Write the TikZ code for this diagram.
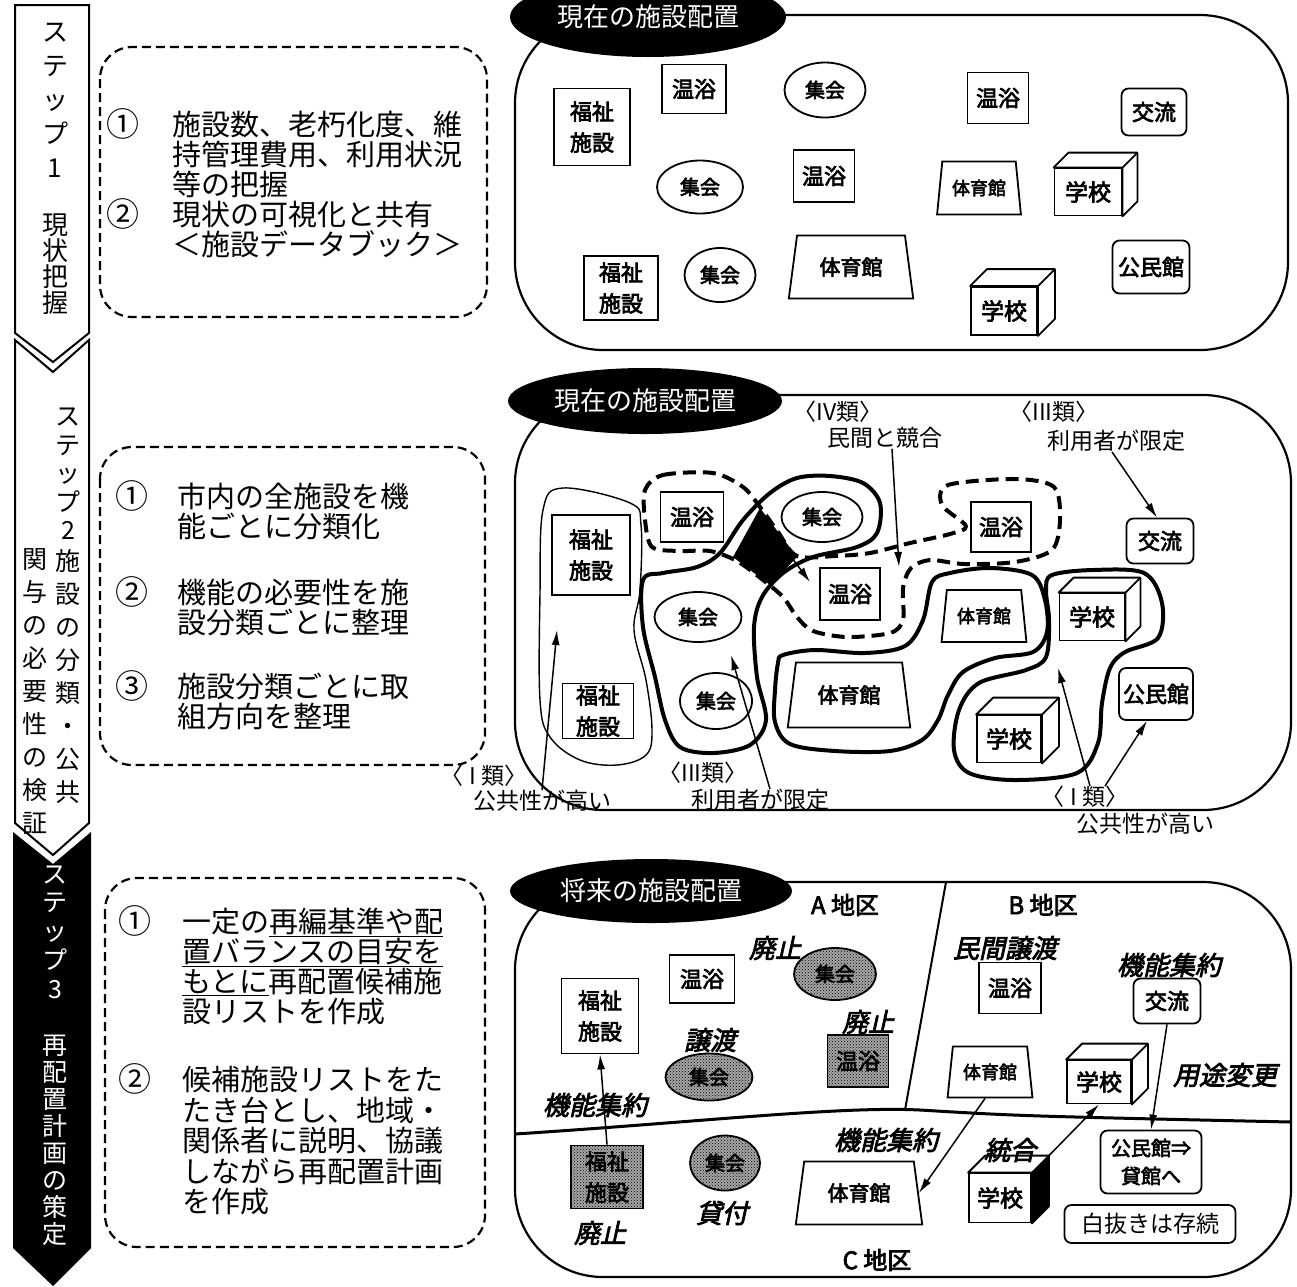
\documentclass[tikz,border=0pt]{standalone}
\usepackage{fontspec}
\setmainfont{Noto Sans CJK JP}
\newfontfamily\jpbold[FakeBold=3]{Noto Sans CJK JP}
\newfontfamily\jpital[FakeBold=3,FakeSlant=0.22]{Noto Sans CJK JP}
\usetikzlibrary{shapes.geometric,arrows.meta,patterns}

\tikzset{
  chev/.style={line width=2pt, line join=miter},
  tate/.style={inner sep=0pt, align=center},
  memo/.style={line width=2.2pt, dash pattern=on 9pt off 5pt, rounded corners=32pt},
  memoline/.style={anchor=base west, inner sep=0pt, font=\fontsize{29}{30}\selectfont},
  num/.style={anchor=base, inner sep=0pt, font=\fontsize{33}{30}\selectfont},
  panel/.style={line width=2.2pt, rounded corners=88pt},
  tag/.style={ellipse, fill=black, text=white, inner sep=0pt, font=\fontsize{26}{28}\selectfont},
  box/.style={draw, line width=1.8pt, fill=white, inner sep=0pt, align=center,
    font=\jpbold\fontsize{22}{31}\selectfont},
  hall/.style={box, rounded corners=7pt},
  meet/.style={box, ellipse, font=\jpbold\fontsize{20}{24}\selectfont},
  school/.style={box, font=\jpbold\fontsize{23}{26}\selectfont},
  gymsmall/.style={box, trapezium, trapezium stretches=true, trapezium angle=77,
    font=\jpbold\fontsize{18}{20}\selectfont},
  gymbig/.style={box, trapezium, trapezium stretches=true, trapezium angle=76,
    font=\jpbold\fontsize{21}{24}\selectfont},
  shaded/.style={draw, line width=1.8pt, inner sep=0pt, align=center,
    preaction={fill=black!35}, pattern=crosshatch dots, pattern color=black,
    font=\jpbold\fontsize{22}{31}\selectfont},
  shadedmeet/.style={shaded, ellipse, font=\jpbold\fontsize{20}{24}\selectfont},
  blob/.style={line width=4pt, line join=round},
  lbl/.style={inner sep=0pt, font=\fontsize{23}{26}\selectfont},
  ital/.style={inner sep=0pt, font=\jpital\fontsize{26}{28}\selectfont},
  area/.style={inner sep=0pt, font=\jpbold\fontsize{24}{26}\selectfont},
  arr/.style={line width=1.5pt, -{Latex[length=15pt,width=8pt]}}
}

% top and side face of a school cube
\newcommand{\cubeback}[2]{%
  \draw[line width=1.8pt, line join=round, fill=white]
    (#1.north west) -- ++(#2,-#2) -- ([shift={(#2,-#2)}]#1.north east)
    -- ([shift={(#2,-#2)}]#1.south east) -- (#1.south east) -- (#1.north east) -- cycle;
  \draw[line width=1.8pt] (#1.north east) -- ++(#2,-#2);}

\begin{document}
\begin{tikzpicture}[x=1pt,y=-1pt]
\useasboundingbox (0,0) rectangle (1297,1286);
\fill[white] (0,0) rectangle (1297,1286);

% step arrows
\draw[chev] (15,5) -- (89,5) -- (89,333) -- (53,362) -- (15,333) -- cycle;
\draw[chev] (15,340) -- (53,372) -- (89,340) -- (89,823) -- (53,855) -- (15,823) -- cycle;
\fill (13,832) -- (53,864) -- (91,832) -- (91,1248) -- (53,1286) -- (13,1248) -- cycle;

\node[tate, font=\fontsize{26}{34}\selectfont] (s1a) at (55,100) {ス\\テ\\ッ\\プ\\1};
\node[tate, font=\fontsize{26}{26}\selectfont] (s1b) at (55,264) {現\\状\\把\\握};
\node[tate, font=\fontsize{25}{28.5}\selectfont] (s2a) at (68,474) {ス\\テ\\ッ\\プ\\2};
\node[tate, font=\fontsize{25}{33}\selectfont] (s2b) at (68,676) {施\\設\\の\\分\\類\\・\\公\\共};
\node[tate, font=\fontsize{25}{33}\selectfont] (s2c) at (35,692) {関\\与\\の\\必\\要\\性\\の\\検\\証};
\node[tate, text=white, font=\fontsize{25}{28.75}\selectfont] (s3a) at (55,932) {ス\\テ\\ッ\\プ\\3};
\node[tate, text=white, font=\fontsize{25}{27}\selectfont] (s3b) at (55,1140) {再\\配\\置\\計\\画\\の\\策\\定};

% dashed memo boxes
\draw[memo] (100,47) rectangle (487,317);
\draw[memo] (100,447) rectangle (485,765);
\draw[memo] (105,878) rectangle (485,1247);

\node[num] (n11) at (123,136) {①};
\node[num] (n12) at (123,226) {②};
\foreach \t [count=\i] in {施設数、老朽化度、維, 持管理費用、利用状況, 等の把握}
  \node[memoline] (m1a\i) at (172,{105+30*\i}) {\t};
\foreach \t [count=\i] in {現状の可視化と共有, ＜施設データブック＞}
  \node[memoline] (m1b\i) at (172,{195+30*\i}) {\t};

\node[num] (n21) at (132,508) {①};
\node[num] (n22) at (132,604) {②};
\node[num] (n23) at (132,698) {③};
\foreach \t [count=\i] in {市内の全施設を機, 能ごとに分類化}
  \node[memoline] (m2a\i) at (177,{477+30*\i}) {\t};
\foreach \t [count=\i] in {機能の必要性を施, 設分類ごとに整理}
  \node[memoline] (m2b\i) at (177,{573+30*\i}) {\t};
\foreach \t [count=\i] in {施設分類ごとに取, 組方向を整理}
  \node[memoline] (m2c\i) at (177,{667+30*\i}) {\t};

\node[num] (n31) at (135,933) {①};
\node[num] (n32) at (135,1091) {②};
\foreach \t [count=\i] in {{一定の\underline{再編基準や配}}, {\underline{置バランスの目安を}},
    {\underline{もとに}再配置候補施}, 設リストを作成}
  \node[memoline] (m3a\i) at (182,{902+30*\i}) {\t};
\foreach \t [count=\i] in {候補施設リストをた, たき台とし、地域・, 関係者に説明、協議,
    しながら再配置計画, を作成}
  \node[memoline] (m3b\i) at (182,{1060+30.5*\i}) {\t};

% panel 1: current layout
\draw[panel] (515,15) rectangle (1288,350);
\node[tag, minimum width=276pt, minimum height=80pt] (t1) at (648,17) {現在の施設配置};

\node[box, minimum width=76pt, minimum height=77pt] (aW1) at (592,127) {福祉\\施設};
\node[box, minimum width=64pt, minimum height=49pt] (aO1) at (694,89) {温浴};
\node[meet, minimum width=81pt, minimum height=55pt] (aM1) at (825,90) {集会};
\node[box, minimum width=61pt, minimum height=51pt] (aO2) at (998,98) {温浴};
\node[hall, minimum width=65pt, minimum height=47pt] (aK) at (1154,112) {交流};
\node[meet, minimum width=86pt, minimum height=53pt] (aM2) at (700,187) {集会};
\node[box, minimum width=61pt, minimum height=52pt] (aO3) at (824,176) {温浴};
\node[gymsmall, minimum width=84pt, minimum height=53pt] (aG1) at (979,188) {体育館};
\node[school, minimum width=67pt, minimum height=47pt] (aS1) at (1088,192) {学校};
\cubeback{aS1}{15}
\node[gymbig, minimum width=125pt, minimum height=63pt] (aG2) at (851,267) {体育館};
\node[box, minimum width=74pt, minimum height=64pt] (aW2) at (621,288) {福祉\\施設};
\node[meet, minimum width=71pt, minimum height=54pt] (aM3) at (720,275) {集会};
\node[hall, minimum width=77pt, minimum height=53pt] (aP) at (1151,267) {公民館};
\node[school, minimum width=66pt, minimum height=48pt] (aS2) at (1004,311) {学校};
\cubeback{aS2}{17}

% panel 2: classification
\draw[panel] (515,395) rectangle (1291,810);
\node[tag, minimum width=274pt, minimum height=66pt] (t2) at (645,401) {現在の施設配置};

\draw[line width=1.4pt] plot[smooth cycle, tension=0.6] coordinates {(563,488) (630,503)
  (641,525) (640,590) (634,630) (646,680) (652,730) (646,755) (617,765) (580,760)
  (550,737) (540,700) (540,593) (543,510)};
\draw[blob] plot[smooth cycle, tension=0.55] coordinates {(643,580) (663,573) (697,567)
  (720,553) (743,520) (770,493) (797,478) (830,476) (863,483) (880,503) (877,533)
  (857,547) (813,557) (783,573) (762,597) (754,627) (757,677) (766,720) (750,745)
  (713,753) (680,747) (665,720) (655,677) (643,627)};
\draw[blob, dash pattern=on 13pt off 7pt] plot[smooth cycle, tension=0.5] coordinates {
  (645,490) (663,475) (713,473) (743,487) (760,507) (778,532) (797,556) (835,556)
  (870,553) (910,543) (950,534) (966,526) (942,505) (948,485) (1015,479) (1054,487)
  (1060,520) (1052,550) (1015,562) (964,564) (930,560) (911,568) (903,588) (903,620)
  (890,633) (847,637) (813,631) (797,617) (783,597) (763,580) (737,561) (710,551)
  (680,551) (652,547) (645,520)};
\draw[blob] plot[smooth cycle, tension=0.55] coordinates {(783,655) (815,650) (865,653)
  (905,646) (923,620) (932,582) (950,573) (990,568) (1032,575) (1045,600) (1047,632)
  (1033,652) (995,658) (963,672) (948,695) (938,720) (922,740) (890,751) (835,751)
  (790,744) (775,722) (775,690) (778,663)};
\draw[blob] plot[smooth cycle, tension=0.55] coordinates {(1052,575) (1093,570)
  (1144,573) (1162,603) (1158,638) (1125,652) (1110,668) (1102,703) (1098,743)
  (1077,773) (1015,780) (969,773) (954,750) (959,710) (979,683) (1026,670) (1046,657)
  (1049,620) (1046,590)};
\fill (760,508) -- (797,557) -- (770,585) -- (733,557) -- cycle;

\node[box, minimum width=78pt, minimum height=80pt] (bW1) at (591,555) {福祉\\施設};
\node[box, minimum width=63pt, minimum height=50pt] (bO1) at (692,517) {温浴};
\node[meet, minimum width=81pt, minimum height=50pt] (bM1) at (822,517) {集会};
\node[box, minimum width=60pt, minimum height=50pt] (bO2) at (1001,527) {温浴};
\node[hall, minimum width=67pt, minimum height=45pt] (bK) at (1160,541) {交流};
\node[box, minimum width=60pt, minimum height=52pt] (bO3) at (850,594) {温浴};
\node[meet, minimum width=87pt, minimum height=50pt] (bM2) at (698,617) {集会};
\node[gymsmall, minimum width=85pt, minimum height=52pt] (bG1) at (984,616) {体育館};
\node[school, minimum width=65pt, minimum height=47pt] (bS1) at (1092,617) {学校};
\cubeback{bS1}{15}
\node[gymbig, minimum width=123pt, minimum height=65pt] (bG2) at (849,695) {体育館};
\node[box, minimum width=71pt, minimum height=55pt] (bW2) at (598,711) {福祉\\施設};
\node[meet, minimum width=72pt, minimum height=56pt] (bM3) at (716,701) {集会};
\node[school, minimum width=64pt, minimum height=47pt] (bS2) at (1009,739) {学校};
\cubeback{bS2}{17}
\node[hall, minimum width=74pt, minimum height=52pt] (bP) at (1156,694) {公民館};

\node[lbl] (bT4) at (838,412) {〈IV類〉};
\node[lbl] (bT4b) at (885,438) {民間と競合};
\node[lbl] (bT3) at (1054,412) {〈III類〉};
\node[lbl] (bT3b) at (1116,441) {利用者が限定};
\node[lbl] (bT1) at (484,776) {〈 I 類〉};
\node[lbl] (bT1b) at (542,801) {公共性が高い};
\node[lbl] (bT3c) at (703,773) {〈III類〉};
\node[lbl] (bT3d) at (760,800) {利用者が限定};
\node[lbl] (bT1c) at (1085,797) {〈 I 類〉};
\node[lbl] (bT1d) at (1145,824) {公共性が高い};

\coordinate (bX1) at (899,567);
\coordinate (bX2) at (731,655);
\coordinate (bX3) at (557,630);
\coordinate (bX4) at (1058,668);
\coordinate (bX5) at (786,550);
\coordinate (bX6) at (810,582);
\draw[arr] ([xshift=7pt]bT4b.south) -- (bX1);
\draw[arr] ([xshift=-4pt]bT3b.south) -- ([xshift=-3pt]bK.north);
\draw[arr] ([xshift=10pt]bT3d.north) -- (bX2);
\draw[arr] (bT1b.north) -- (bX3);
\draw[arr] ([xshift=5pt]bT1c.north) -- (bX4);
\draw[arr] ([xshift=20pt]bT1c.north) -- ([xshift=-9pt]bP.south);
\draw[arr] (bX5) -- (bX6);

% panel 3: future layout
\draw[panel] (515,882) rectangle (1291,1277);
\draw[line width=2pt] (946,882) -- (905,1110);
\draw[line width=3pt] (515,1134) .. controls (700,1122) and (840,1106) .. (920,1110)
  .. controls (1020,1116) .. (1291,1122);
\node[tag, minimum width=282pt, minimum height=64pt] (t3) at (651,891) {将来の施設配置};

\node[area] (cA) at (845,905) {A 地区};
\node[area] (cB) at (1043,905) {B 地区};
\node[area] (cC) at (877,1260) {C 地区};

\node[box, minimum width=65pt, minimum height=48pt] (cO1) at (702,979) {温浴};
\node[shadedmeet, minimum width=82pt, minimum height=52pt] (cM1) at (835,974) {集会};
\node[box, minimum width=77pt, minimum height=75pt] (cW1) at (600,1016) {福祉\\施設};
\node[shadedmeet, minimum width=87pt, minimum height=47pt] (cM2) at (709,1077) {集会};
\node[shaded, minimum width=61pt, minimum height=52pt] (cO2) at (858,1061) {温浴};
\node[box, minimum width=62pt, minimum height=51pt] (cO3) at (1010,988) {温浴};
\node[hall, minimum width=67pt, minimum height=45pt] (cK) at (1167,1001) {交流};
\node[gymsmall, minimum width=85pt, minimum height=51pt] (cG1) at (990,1072) {体育館};
\node[school, minimum width=64pt, minimum height=43pt] (cS1) at (1099,1082) {学校};
\cubeback{cS1}{16}
\node[shaded, minimum width=72pt, minimum height=63pt] (cW2) at (607,1177) {福祉\\施設};
\node[shadedmeet, minimum width=70pt, minimum height=55pt] (cM3) at (725,1163) {集会};
\node[gymbig, minimum width=127pt, minimum height=63pt] (cG2) at (859,1193) {体育館};
\node[school, minimum width=62pt, minimum height=49pt] (cS2) at (1000,1198) {学校};
\cubeback{cS2}{17}
\fill (cS2.north east) -- ([shift={(17,-17)}]cS2.north east)
  -- ([shift={(17,-17)}]cS2.south east) -- (cS2.south east) -- cycle;
\node[hall, minimum width=101pt, minimum height=63pt, font=\jpbold\fontsize{20}{28}\selectfont]
  (cP) at (1151,1162) {公民館⇒\\貸館へ};
\node[hall, minimum width=171pt, minimum height=38pt, font=\fontsize{23}{26}\selectfont]
  (cN) at (1150,1224) {白抜きは存続};

\node[ital] (cL1) at (775,948) {廃止};
\node[ital] (cL2) at (710,1040) {譲渡};
\node[ital] (cL3) at (868,1022) {廃止};
\node[ital] (cL4) at (595,1105) {機能集約};
\node[ital] (cL5) at (1005,948) {民間譲渡};
\node[ital] (cL6) at (1169,965) {機能集約};
\node[ital] (cL7) at (1225,1075) {用途変更};
\node[ital] (cL8) at (600,1233) {廃止};
\node[ital] (cL9) at (722,1213) {貸付};
\node[ital] (cL10) at (886,1140) {機能集約};
\node[ital] (cL11) at (1010,1150) {統合};

\draw[arr] (cW2.north) -- (cW1.south);
\draw[arr] ([xshift=-5pt]cG1.south) -- (cG2.east);
\draw[arr] ([shift={(17,-17)}]cS2.north east) -- (cS1.south);
\draw[arr] (cK.south) -- (cP.north);
\end{tikzpicture}
\end{document}
